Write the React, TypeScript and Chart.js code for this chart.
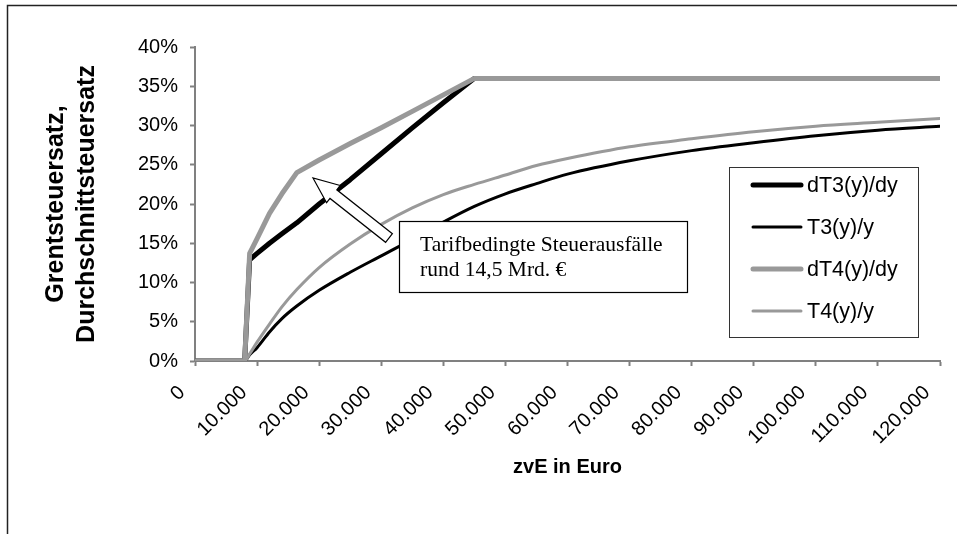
import React, { useEffect, useRef } from 'react';
import { Chart, registerables } from 'chart.js';

Chart.register(...registerables);

// Income (zvE in Euro)
const incomes = [0, 8000, 8800, 10000, 12000, 14000, 16400, 20000, 25000, 30000, 35000, 40000, 45000, 50000, 55000, 60000, 70000, 80000, 90000, 100000, 110000, 120000];
// Rates in percent
const dT3 = [0, 0, 12.9, 13.7, 15.0, 16.2, 17.6, 20.0, 23.1, 26.4, 29.7, 32.9, 36.0, 36.0, 36.0, 36.0, 36.0, 36.0, 36.0, 36.0, 36.0, 36.0];
const T3 = [0, 0, 0.8, 1.7, 3.7, 5.4, 7.0, 9.0, 11.3, 13.4, 15.5, 17.7, 19.7, 21.3, 22.6, 23.8, 25.5, 26.8, 27.8, 28.7, 29.4, 29.9];
const dT4 = [0, 0, 13.7, 15.6, 18.8, 21.3, 24.0, 25.6, 27.7, 29.7, 31.8, 33.9, 36.0, 36.0, 36.0, 36.0, 36.0, 36.0, 36.0, 36.0, 36.0, 36.0];
const T4 = [0, 0, 0.9, 2.4, 4.7, 6.9, 9.1, 11.9, 14.9, 17.4, 19.5, 21.2, 22.5, 23.7, 24.9, 25.8, 27.3, 28.3, 29.2, 29.9, 30.4, 30.9];

const seriesNames = ['dT3(y)/dy', 'T3(y)/y', 'dT4(y)/dy', 'T4(y)/y'];
const yTitleLines = ['Grentsteuersatz,', 'Durchschnittsteuersatz'];
const xTitle = 'zvE in Euro';
const noteLines = ['Tarifbedingte Steuerausfälle', 'rund 14,5 Mrd. €'];

const SANS = "'Liberation Sans', Arial, Helvetica, sans-serif";
const SERIF = "'Liberation Serif', 'Times New Roman', serif";
const GRAY = '#999999';

const fmtThousands = (v: number) => String(Math.round(v)).replace(/\B(?=(\d{3})+(?!\d))/g, '.');

const decorPlugin = {
  id: 'decor',
  afterDraw(chart: any) {
    const ctx = chart.ctx as CanvasRenderingContext2D;
    ctx.save();
    // outer frame
    ctx.strokeStyle = '#222';
    ctx.lineWidth = 1.5;
    ctx.beginPath();
    ctx.moveTo(957, 5.5);
    ctx.lineTo(7.5, 5.5);
    ctx.lineTo(7.5, 534);
    ctx.stroke();

    // legend
    const lx = 729, ly = 167, lw = 189, lh = 170;
    ctx.fillStyle = '#fff';
    ctx.fillRect(lx, ly, lw, lh);
    ctx.strokeStyle = '#333';
    ctx.lineWidth = 1;
    ctx.strokeRect(lx + 0.5, ly + 0.5, lw, lh);
    const ds = chart.data.datasets;
    ds.forEach((d: any, i: number) => {
      const cy = 185 + i * 42;
      ctx.strokeStyle = d.borderColor;
      ctx.lineWidth = d.borderWidth;
      ctx.lineCap = 'round';
      ctx.beginPath();
      ctx.moveTo(753, cy);
      ctx.lineTo(801, cy);
      ctx.stroke();
      ctx.fillStyle = '#000';
      ctx.font = `21.5px ${SANS}`;
      ctx.textAlign = 'left';
      ctx.textBaseline = 'middle';
      ctx.fillText(d.label, 807, cy + 1);
    });

    // arrow
    const tip = { x: 313, y: 178 };
    const tail = { x: 389, y: 238 };
    const dx = tip.x - tail.x, dy = tip.y - tail.y;
    const len = Math.hypot(dx, dy);
    const ux = dx / len, uy = dy / len;
    const nx = -uy, ny = ux;
    const headLen = 26, headHalf = 11, shaftHalf = 5.5;
    const neck = { x: tip.x - ux * headLen, y: tip.y - uy * headLen };
    ctx.beginPath();
    ctx.moveTo(tail.x + nx * shaftHalf, tail.y + ny * shaftHalf);
    ctx.lineTo(neck.x + nx * shaftHalf, neck.y + ny * shaftHalf);
    ctx.lineTo(neck.x + nx * headHalf, neck.y + ny * headHalf);
    ctx.lineTo(tip.x, tip.y);
    ctx.lineTo(neck.x - nx * headHalf, neck.y - ny * headHalf);
    ctx.lineTo(neck.x - nx * shaftHalf, neck.y - ny * shaftHalf);
    ctx.lineTo(tail.x - nx * shaftHalf, tail.y - ny * shaftHalf);
    ctx.closePath();
    ctx.fillStyle = '#fff';
    ctx.fill();
    ctx.strokeStyle = '#000';
    ctx.lineWidth = 1.2;
    ctx.lineJoin = 'miter';
    ctx.stroke();

    // note box
    const bx = 399, by = 221, bw = 288, bh = 71;
    ctx.fillStyle = '#fff';
    ctx.fillRect(bx, by, bw, bh);
    ctx.strokeStyle = '#000';
    ctx.lineWidth = 1.2;
    ctx.strokeRect(bx + 0.5, by + 0.5, bw, bh);
    ctx.fillStyle = '#000';
    ctx.font = `21.5px ${SERIF}`;
    ctx.textAlign = 'left';
    ctx.textBaseline = 'alphabetic';
    ctx.fillText(noteLines[0], 420, 251);
    ctx.fillText(noteLines[1], 420, 276);
    ctx.restore();
  },
};

export default function App() {
  const ref = useRef<HTMLCanvasElement | null>(null);
  useEffect(() => {
    if (!ref.current) return;
    const mk = (vals: number[]) => incomes.map((x, i) => ({ x, y: vals[i] }));
    const chart = new Chart(ref.current, {
      type: 'line',
      data: {
        datasets: [
          { label: seriesNames[0], data: mk(dT3), borderColor: '#000000', borderWidth: 5, order: 4, tension: 0 },
          { label: seriesNames[1], data: mk(T3), borderColor: '#000000', borderWidth: 3, order: 3, cubicInterpolationMode: 'monotone' },
          { label: seriesNames[2], data: mk(dT4), borderColor: GRAY, borderWidth: 5, order: 2, tension: 0 },
          { label: seriesNames[3], data: mk(T4), borderColor: GRAY, borderWidth: 3, order: 1, cubicInterpolationMode: 'monotone' },
        ] as any,
      },
      options: {
        animation: false,
        responsive: false,
        maintainAspectRatio: false,
        layout: { padding: { left: 0, top: 47, right: 17, bottom: 0 } },
        elements: {
          point: { radius: 0, hoverRadius: 0 },
          line: { borderJoinStyle: 'round', borderCapStyle: 'round', fill: false },
        },
        plugins: { legend: { display: false }, tooltip: { enabled: false } },
        scales: {
          x: {
            type: 'linear',
            min: 0,
            max: 120000,
            afterFit: (s: any) => { s.height = 173; s.paddingLeft = 0; s.paddingRight = 0; },
            ticks: {
              stepSize: 10000,
              autoSkip: false,
              minRotation: 45,
              maxRotation: 45,
              labelOffset: -13,
              padding: 15,
              color: '#000',
              font: { family: SANS, size: 20 },
              callback: (v: any) => fmtThousands(Number(v)),
            },
            grid: { drawOnChartArea: false, drawTicks: true, tickLength: 5, color: '#808080', tickWidth: 2 },
            border: { display: true, color: '#808080', width: 2 },
            title: {
              display: true,
              text: xTitle,
              color: '#000',
              font: { family: SANS, size: 20, weight: 'bold' },
              padding: { top: 0, bottom: 55 },
            },
          },
          y: {
            type: 'linear',
            min: 0,
            max: 40,
            afterFit: (s: any) => { s.width = 195; s.paddingTop = 0; s.paddingBottom = 0; },
            ticks: {
              stepSize: 5,
              padding: 12,
              color: '#000',
              font: { family: SANS, size: 20 },
              callback: (v: any) => `${v}%`,
            },
            grid: { drawOnChartArea: false, drawTicks: true, tickLength: 5, color: '#808080', tickWidth: 2 },
            border: { display: true, color: '#808080', width: 2 },
            title: {
              display: true,
              text: yTitleLines,
              color: '#000',
              font: { family: SANS, size: 25, weight: 'bold', lineHeight: 1.24 },
              padding: { top: 41, bottom: 0 },
            },
          },
        },
      } as any,
      plugins: [decorPlugin],
    });
    return () => chart.destroy();
  }, []);
  return (
    <div style={{ position: 'fixed', left: 0, top: 0, width: 957, height: 534, background: '#fff' }}>
      <canvas ref={ref} width={957} height={534} style={{ display: 'block' }} />
    </div>
  );
}
